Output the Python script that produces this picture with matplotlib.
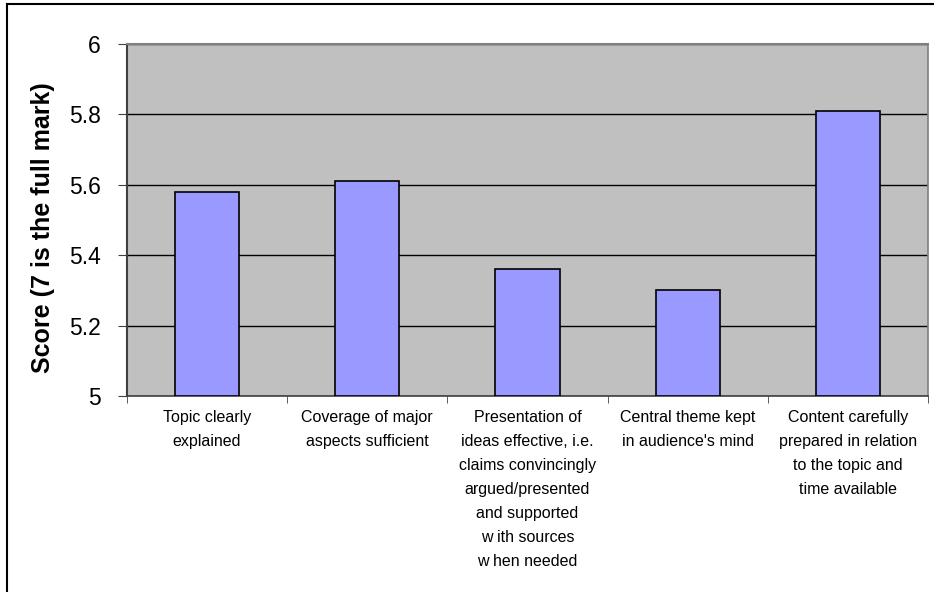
import matplotlib.pyplot as plt
import matplotlib.lines as lines
import numpy as np

plt.rcParams['font.family'] = ['Liberation Sans', 'DejaVu Sans']

categories = [
	"Topic clearly\nexplained",
	"Coverage of major\naspects sufficient",
	"Presentation of\nideas effective, i.e.\nclaims convincingly\nargued/presented\nand supported\nw ith sources\nw hen needed",
	"Central theme kept\nin audience's mind",
	"Content carefully\nprepared in relation\nto the topic and\ntime available",
]
scores = [5.58, 5.61, 5.36, 5.30, 5.81]
y_ticks = [5, 5.2, 5.4, 5.6, 5.8, 6]
y_label = "Score (7 is the full mark)"


if __name__ == '__main__':

	fig = plt.figure(figsize=(9.34, 5.92), dpi=100)
	ax = fig.add_axes([127 / 934, 196 / 592, 801 / 934, 352 / 592])

	X = np.arange(len(scores))
	ax.set_facecolor('#C0C0C0')
	ax.bar(X, [s - 5 for s in scores], bottom=5, width=0.4, color='#9999FF',
		edgecolor='black', linewidth=1.2, zorder=3)

	ax.set_xlim(-0.5, len(scores) - 0.5)
	ax.set_ylim(5, 6)
	ax.set_yticks(y_ticks)
	ax.set_yticklabels([f"{t:g}" for t in y_ticks], fontsize=16.5)
	ax.yaxis.grid(True, color='black', linewidth=1)
	ax.set_axisbelow(True)

	# category labels at bar centres, ticks between categories
	ax.set_xticks(X)
	ax.set_xticklabels(categories, fontsize=11.5, linespacing=1.75, va='top')
	ax.tick_params(axis='x', which='major', length=0, pad=10)
	ax.set_xticks(np.arange(len(scores) + 1) - 0.5, minor=True)
	ax.tick_params(axis='x', which='minor', length=5, direction='out', color='#404040')
	ax.tick_params(axis='y', length=6.5, direction='out', color='#404040', pad=12.5)

	ax.set_ylabel(y_label, fontsize=18, fontweight='bold')
	ax.yaxis.set_label_coords(-0.09, 0.477)

	ax.spines['left'].set_color('#404040')
	ax.spines['left'].set_linewidth(1.5)
	ax.spines['top'].set_color('#808080')
	ax.spines['top'].set_linewidth(1.5)
	ax.spines['right'].set_color('#808080')
	ax.spines['right'].set_linewidth(1.2)
	ax.spines['bottom'].set_color('#404040')
	ax.spines['bottom'].set_linewidth(1.2)

	# outer chart frame
	fig.add_artist(lines.Line2D([7 / 934, 1], [588 / 592, 588 / 592], color='black', linewidth=1.5))
	fig.add_artist(lines.Line2D([7 / 934, 7 / 934], [0, 588 / 592], color='black', linewidth=1.5))

	fig.savefig('out.png', dpi=100)
